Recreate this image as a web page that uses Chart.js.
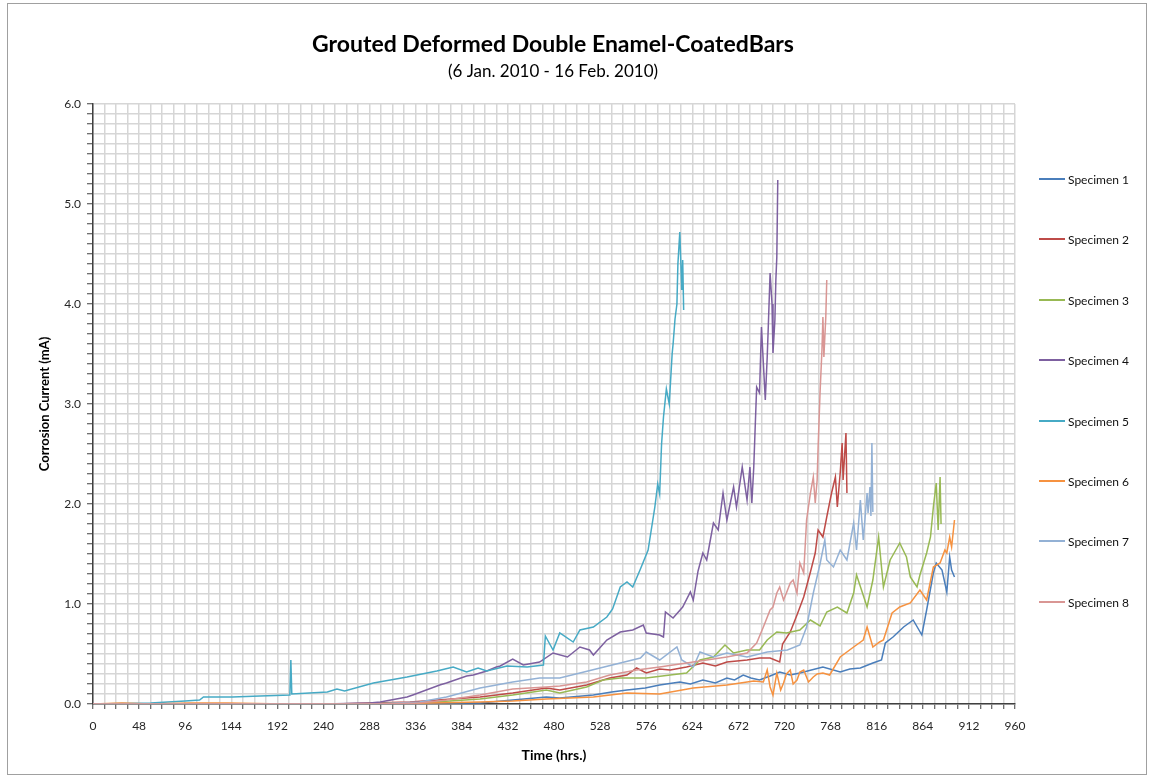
<!DOCTYPE html>
<html>
<head>
<meta charset="utf-8">
<title>Grouted Deformed Double Enamel-CoatedBars</title>
<script src="https://cdn.jsdelivr.net/npm/chart.js@4.4.1/dist/chart.umd.min.js"></script>
<style>
  html, body { margin: 0; padding: 0; background: #fff; }
  #contenedor { position: relative; width: 1150px; height: 778px; }
  #leyenda { position: absolute; left: 1039px; top: 0; font: 12px Lato, sans-serif; color: #111; }
  .item { position: absolute; left: 0; height: 16px; white-space: nowrap; display: flex; align-items: center; }
  .linea { display: inline-block; width: 26px; height: 2px; margin-right: 3px; }
</style>
</head>
<body>
<div id="contenedor">
  <canvas id="miGrafico" width="1150" height="778"></canvas>
  <div id="leyenda"></div>
</div>
<script>
// Ejes
const ticksX = [0, 48, 96, 144, 192, 240, 288, 336, 384, 432, 480, 528, 576, 624, 672, 720, 768, 816, 864, 912, 960];
const ticksY = [0, 1, 2, 3, 4, 5, 6];

const etiquetas = ['Specimen 1', 'Specimen 2', 'Specimen 3', 'Specimen 4', 'Specimen 5', 'Specimen 6', 'Specimen 7', 'Specimen 8'];
const colores = ['#4A7EBB', '#BE4B48', '#98B954', '#7D60A0', '#46AAC5', '#F69240', '#93B1D5', '#D99694'];

// Datos (horas, mA)
const horas1 = [0, 120, 240, 300, 360, 403, 437, 472, 486, 521, 540, 556, 575, 590, 611, 622, 635, 648, 660, 668, 677, 685, 694, 705, 715, 726, 736, 748, 760, 778, 788, 799, 812, 821, 825, 833, 844, 854, 863, 868, 875, 878, 884, 889, 892, 894, 897];
const valores1 = [0, 0, 0, 0, 0.01, 0.01, 0.04, 0.07, 0.06, 0.09, 0.12, 0.14, 0.16, 0.19, 0.22, 0.20, 0.24, 0.21, 0.26, 0.24, 0.29, 0.26, 0.24, 0.28, 0.32, 0.29, 0.31, 0.34, 0.37, 0.32, 0.35, 0.36, 0.41, 0.44, 0.61, 0.67, 0.77, 0.84, 0.69, 0.94, 1.31, 1.41, 1.34, 1.12, 1.47, 1.34, 1.27];

const horas2 = [0, 250, 330, 403, 437, 472, 486, 514, 538, 556, 566, 576, 590, 601, 618, 635, 648, 660, 681, 694, 705, 715, 718, 726, 733, 740, 747, 752, 755, 760, 764, 769, 773, 775, 778, 780, 781, 784, 785];
const valores2 = [0, 0, 0.02, 0.07, 0.11, 0.16, 0.14, 0.19, 0.26, 0.29, 0.36, 0.31, 0.35, 0.34, 0.37, 0.41, 0.38, 0.42, 0.44, 0.46, 0.46, 0.42, 0.60, 0.72, 0.89, 1.07, 1.32, 1.51, 1.74, 1.67, 1.87, 2.11, 2.27, 1.97, 2.31, 2.61, 2.24, 2.71, 2.11];

const horas3 = [0, 260, 340, 403, 437, 472, 486, 514, 531, 549, 576, 601, 618, 632, 646, 658, 667, 681, 694, 702, 712, 722, 736, 747, 757, 764, 775, 785, 792, 795, 806, 812, 818, 823, 830, 840, 847, 851, 858, 861, 868, 872, 875, 878, 880, 882, 883];
const valores3 = [0, 0, 0.01, 0.05, 0.09, 0.14, 0.11, 0.17, 0.24, 0.26, 0.26, 0.29, 0.31, 0.44, 0.47, 0.59, 0.51, 0.54, 0.54, 0.64, 0.72, 0.71, 0.74, 0.84, 0.78, 0.92, 0.97, 0.91, 1.11, 1.29, 0.97, 1.24, 1.67, 1.17, 1.44, 1.61, 1.47, 1.27, 1.17, 1.29, 1.51, 1.67, 1.97, 2.21, 1.74, 2.27, 1.80];

const horas4 = [0, 180, 240, 288, 299, 327, 333, 361, 368, 389, 396, 410, 420, 424, 437, 448, 465, 479, 494, 507, 517, 521, 535, 549, 562, 573, 576, 590, 594, 596, 604, 614, 622, 625, 630, 635, 639, 646, 651, 656, 660, 667, 670, 676, 681, 684, 686, 688, 689, 691, 694, 696, 700, 702, 703, 705, 707, 708, 710, 711, 712, 713];
const valores4 = [0, 0, 0, 0.01, 0.02, 0.07, 0.09, 0.19, 0.21, 0.28, 0.29, 0.33, 0.37, 0.38, 0.45, 0.39, 0.42, 0.51, 0.47, 0.57, 0.54, 0.49, 0.64, 0.72, 0.74, 0.79, 0.71, 0.69, 0.67, 0.92, 0.86, 0.97, 1.12, 1.04, 1.33, 1.51, 1.44, 1.81, 1.74, 2.11, 1.84, 2.17, 1.97, 2.37, 2.04, 2.37, 2.01, 2.37, 2.64, 3.17, 3.11, 3.77, 3.04, 3.47, 3.74, 4.31, 4.00, 3.51, 3.84, 4.24, 4.47, 5.24];

const horas5 = [0, 60, 96, 111, 115, 145, 174, 205, 206, 207, 244, 254, 262, 292, 327, 358, 375, 389, 401, 410, 431, 452, 469, 471, 479, 486, 500, 507, 521, 535, 541, 549, 556, 562, 570, 578, 585, 588, 590, 592, 594, 597, 600, 603, 604, 606, 608, 609, 611, 613, 614, 615];
const valores5 = [0, 0.01, 0.03, 0.04, 0.07, 0.07, 0.08, 0.09, 0.44, 0.10, 0.12, 0.15, 0.13, 0.21, 0.27, 0.33, 0.37, 0.32, 0.36, 0.33, 0.38, 0.37, 0.39, 0.68, 0.54, 0.71, 0.62, 0.74, 0.77, 0.87, 0.95, 1.17, 1.22, 1.17, 1.35, 1.54, 1.97, 2.20, 2.10, 2.60, 2.87, 3.15, 3.00, 3.50, 3.60, 3.85, 4.00, 4.40, 4.72, 4.14, 4.44, 3.94];

const horas6 = [0, 30, 60, 100, 140, 200, 300, 403, 437, 472, 521, 556, 590, 625, 660, 688, 698, 702, 705, 708, 712, 716, 719, 722, 726, 729, 733, 736, 740, 745, 750, 754, 760, 767, 778, 792, 802, 806, 812, 819, 823, 832, 840, 851, 861, 868, 875, 882, 887, 889, 892, 894, 897];
const valores6 = [0, 0.01, 0, 0.01, 0.01, 0, 0, 0.02, 0.03, 0.05, 0.07, 0.11, 0.10, 0.16, 0.19, 0.23, 0.22, 0.34, 0.17, 0.09, 0.31, 0.14, 0.21, 0.30, 0.34, 0.20, 0.24, 0.32, 0.34, 0.22, 0.27, 0.30, 0.31, 0.29, 0.47, 0.57, 0.64, 0.77, 0.57, 0.62, 0.64, 0.91, 0.97, 1.01, 1.14, 1.04, 1.37, 1.41, 1.54, 1.51, 1.67, 1.57, 1.84];

const horas7 = [0, 290, 340, 368, 403, 437, 465, 486, 507, 528, 549, 570, 576, 590, 608, 613, 625, 632, 646, 660, 681, 702, 723, 736, 743, 750, 757, 762, 764, 771, 778, 785, 792, 795, 799, 802, 806, 807, 809, 810, 811, 812];
const valores7 = [0, 0, 0.02, 0.07, 0.16, 0.22, 0.26, 0.26, 0.31, 0.36, 0.41, 0.46, 0.52, 0.44, 0.57, 0.44, 0.37, 0.52, 0.47, 0.51, 0.47, 0.52, 0.54, 0.59, 0.77, 1.11, 1.40, 1.64, 1.44, 1.37, 1.54, 1.44, 1.81, 1.54, 2.04, 1.64, 2.11, 1.91, 2.17, 1.88, 2.61, 1.92];

const horas8 = [0, 290, 340, 368, 403, 437, 472, 486, 514, 538, 566, 590, 618, 639, 660, 681, 691, 698, 705, 708, 712, 715, 719, 722, 726, 729, 733, 736, 740, 743, 747, 750, 752, 754, 755, 757, 759, 760, 761, 763, 764];
const valores8 = [0, 0, 0.01, 0.04, 0.09, 0.15, 0.17, 0.18, 0.22, 0.29, 0.34, 0.37, 0.41, 0.44, 0.47, 0.51, 0.61, 0.77, 0.94, 0.97, 1.11, 1.17, 1.04, 1.11, 1.21, 1.24, 1.11, 1.41, 1.31, 1.84, 2.11, 2.27, 2.01, 2.24, 2.57, 3.11, 3.54, 3.87, 3.47, 3.87, 4.24];

const series = [
    [horas1, valores1], [horas2, valores2], [horas3, valores3], [horas4, valores4],
    [horas5, valores5], [horas6, valores6], [horas7, valores7], [horas8, valores8]
];

const conjuntos = series.map(([h, v], i) => ({
    label: etiquetas[i],
    data: h.map((x, k) => ({ x, y: v[k] })),
    borderColor: colores[i],
    backgroundColor: colores[i],
    borderWidth: 1.5,
    pointRadius: 0,
    tension: 0,
    fill: false,
    order: 8 - i
}));

// Marco exterior
const marco = {
    id: 'marco',
    beforeDraw(chart) {
        const ctx = chart.ctx;
        ctx.save();
        ctx.fillStyle = '#fff';
        ctx.fillRect(0, 0, chart.width, chart.height);
        ctx.strokeStyle = '#a0a0a0';
        ctx.lineWidth = 1;
        ctx.strokeRect(7.5, 3.5, 1139, 771);
        ctx.restore();
    }
};

const fuente = 'Lato, "Open Sans", sans-serif';

new Chart(document.getElementById('miGrafico').getContext('2d'), {
    type: 'line',
    data: { datasets: conjuntos },
    options: {
        responsive: false,
        animation: false,
        devicePixelRatio: 1,
        layout: { padding: { left: 0, right: 44, top: 0, bottom: 0 } },
        plugins: {
            legend: { display: false },
            tooltip: { enabled: false },
            title: {
                display: true,
                text: 'Grouted Deformed Double Enamel-CoatedBars',
                color: '#000',
                font: { family: fuente, size: 23, weight: 'bold' },
                padding: { top: 31, bottom: 0 }
            },
            subtitle: {
                display: true,
                text: '(6 Jan. 2010 - 16 Feb. 2010)',
                color: '#000',
                font: { family: fuente, size: 17 },
                padding: { top: 3, bottom: 22 }
            }
        },
        scales: {
            x: {
                type: 'linear',
                min: 0,
                max: 960,
                afterFit: s => { s.height = 74; },
                ticks: {
                    stepSize: 12,
                    autoSkip: false,
                    maxTicksLimit: 200,
                    maxRotation: 0,
                    padding: 10,
                    color: '#262626',
                    font: { family: fuente, size: 12 },
                    callback: v => ticksX.includes(v) ? String(v) : ''
                },
                grid: {
                    color: '#d6d6d6',
                    lineWidth: 1.5,
                    tickColor: '#404040',
                    tickLength: 5,
                    tickWidth: 1
                },
                border: { display: true, color: '#404040', width: 1.5 },
                title: {
                    display: true,
                    text: 'Time (hrs.)',
                    color: '#000',
                    font: { family: fuente, size: 14, weight: 'bold' },
                    padding: { top: 0, bottom: 14 }
                }
            },
            y: {
                min: 0,
                max: 6,
                afterFit: s => { s.width = 93; },
                ticks: {
                    stepSize: 0.1,
                    autoSkip: false,
                    maxTicksLimit: 200,
                    padding: 6,
                    color: '#262626',
                    font: { family: fuente, size: 12 },
                    callback: v => {
                        const d = Math.round(v * 10);
                        return (d % 10 === 0 && ticksY.includes(d / 10)) ? (d / 10).toFixed(1) : '';
                    }
                },
                grid: {
                    color: '#d6d6d6',
                    lineWidth: 1.5,
                    tickColor: '#404040',
                    tickLength: 6,
                    tickWidth: 1
                },
                border: { display: true, color: '#404040', width: 1.5 },
                title: {
                    display: true,
                    text: 'Corrosion Current (mA)',
                    color: '#000',
                    font: { family: fuente, size: 13, weight: 'bold' },
                    padding: { top: 37, bottom: 0 }
                }
            },
            // eje vacio a la derecha: deja sitio para la leyenda
            margen: {
                type: 'linear',
                position: 'right',
                display: true,
                afterFit: s => { s.width = 91; },
                ticks: { display: false },
                grid: { display: false, drawOnChartArea: false },
                border: { display: false }
            }
        }
    },
    plugins: [marco]
});

// Leyenda
const leyenda = document.getElementById('leyenda');
etiquetas.forEach((nombre, i) => {
    const item = document.createElement('div');
    item.className = 'item';
    item.style.top = Math.round(171 + i * 60.4) + 'px';
    const linea = document.createElement('span');
    linea.className = 'linea';
    linea.style.background = colores[i];
    item.appendChild(linea);
    item.appendChild(document.createTextNode(nombre));
    leyenda.appendChild(item);
});
</script>
</body>
</html>
